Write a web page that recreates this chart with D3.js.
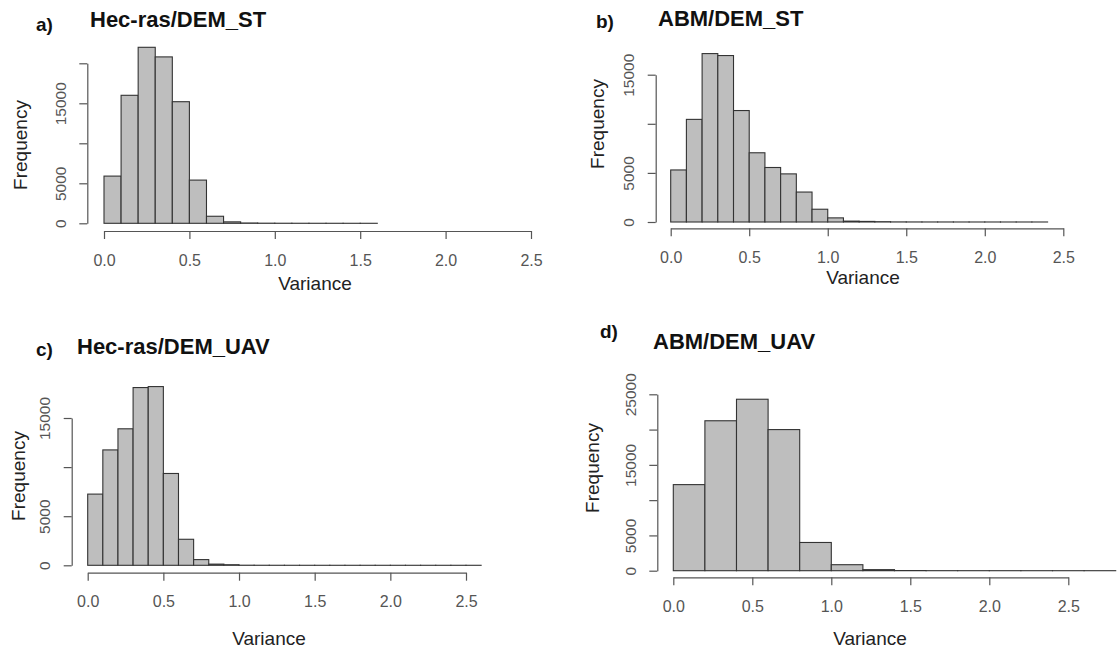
<!DOCTYPE html>
<html>
<head>
<meta charset="utf-8">
<script src="https://cdn.jsdelivr.net/npm/d3@7"></script>
<style>
  body { margin: 0; background: #fff; }
  svg { font-family: "Liberation Sans", Arial, sans-serif; }
</style>
</head>
<body>
<script>
// histogram counts, one value per bin (bins start at 0)
var countsA = [5900, 16000, 22000, 20800, 15200, 5400, 880, 180, 40, 15, 8, 5, 3, 2, 1, 1];
var countsB = [5300, 10450, 17150, 16950, 11350, 7050, 5550, 4900, 3050, 1300, 420, 90, 60, 30,
               10, 6, 4, 3, 2, 1, 1, 1, 1, 1];
var countsC = [7250, 11750, 13900, 18100, 18200, 9350, 2650, 580, 120, 60, 10, 5, 3, 2, 1, 1,
               1, 1, 1, 1, 1, 1, 1, 1, 1, 1];
var countsD = [12200, 21250, 24300, 20000, 4000, 850, 150, 20, 5, 3, 2, 1, 1, 1];
var binWidths = [0.1, 0.1, 0.1, 0.2];

var titles = ["Hec-ras/DEM_ST", "ABM/DEM_ST", "Hec-ras/DEM_UAV", "ABM/DEM_UAV"];
var letters = ["a)", "b)", "c)", "d)"];
var xTicks = [0, 0.5, 1.0, 1.5, 2.0, 2.5];
var yTicksSmall = [0, 5000, 10000, 15000];
var yTicksA = [0, 5000, 10000, 15000, 20000];
var yTicksD = [0, 5000, 10000, 15000, 20000, 25000];
var yLabelsABC = [0, 5000, 15000];
var yLabelsD = [0, 5000, 15000, 25000];

var width = 1119, height = 649;

var svg = d3.select("body").append("svg")
    .attr("width", width)
    .attr("height", height);

// panel layout (pixel frames)
var panels = [
  {counts: countsA, bw: binWidths[0], yTicks: yTicksA, yLabels: yLabelsABC,
   xr: [104, 531], yr: [223.3, 63.3], axisY: 231, axisX: 87.3,
   title: [90, 27], letter: [36, 31], freq: [20, 145], varc: [315, 283]},
  {counts: countsB, bw: binWidths[1], yTicks: yTicksSmall, yLabels: yLabelsABC,
   xr: [670.7, 1063.3], yr: [222, 74.7], axisY: 228.3, axisX: 655.7,
   title: [658, 26], letter: [596, 28], freq: [597, 124], varc: [863, 277]},
  {counts: countsC, bw: binWidths[2], yTicks: yTicksSmall, yLabels: yLabelsABC,
   xr: [87.7, 466], yr: [565.3, 418], axisY: 572.7, axisX: 71.7,
   title: [77, 354], letter: [36, 356], freq: [18.3, 476], varc: [269, 638]},
  {counts: countsD, bw: binWidths[3], yTicks: yTicksD, yLabels: yLabelsD,
   xr: [673.3, 1068.3], yr: [570.7, 394.3], axisY: 577.3, axisX: 657.3,
   title: [653, 349], letter: [600, 338], freq: [592, 468], varc: [870, 638]}
];

panels.forEach(function(p, k) {
  var x = d3.scaleLinear().domain([0, 2.5]).range(p.xr);
  var y = d3.scaleLinear().domain([0, d3.max(p.yTicks)]).range(p.yr);
  var g = svg.append("g");

  // bars
  g.selectAll("rect")
    .data(p.counts)
    .enter().append("rect")
      .attr("x", function(d, i) { return x(i * p.bw); })
      .attr("width", x(p.bw) - x(0))
      .attr("y", function(d) { return y(d); })
      .attr("height", function(d) { return y(0) - y(d); })
      .attr("fill", "#bebebe")
      .attr("stroke", "#333")
      .attr("stroke-width", 1.1);

  // x axis
  var gx = g.append("g")
      .attr("transform", "translate(0," + p.axisY + ")")
      .call(d3.axisBottom(x).tickValues(xTicks).tickFormat(d3.format(".1f"))
        .tickSizeOuter(0).tickSizeInner(8));
  gx.select(".domain").attr("stroke", "#555").attr("stroke-width", 1.2);
  gx.selectAll(".tick line").attr("stroke", "#555").attr("stroke-width", 1.2);
  gx.selectAll(".tick text")
      .attr("y", 29).attr("dy", "0.35em")
      .attr("font-size", 16).attr("fill", "#555")
      .attr("font-family", "Liberation Sans, Arial, sans-serif");

  // y axis
  var gy = g.append("g")
      .attr("transform", "translate(" + p.axisX + ",0)")
      .call(d3.axisLeft(y).tickValues(p.yTicks).tickFormat(d3.format("d"))
        .tickSizeOuter(0).tickSizeInner(8));
  gy.select(".domain").attr("stroke", "#555").attr("stroke-width", 1.2);
  gy.selectAll(".tick line").attr("stroke", "#555").attr("stroke-width", 1.2);
  gy.selectAll(".tick text")
      .attr("x", 0).attr("dy", "0.35em")
      .attr("transform", "translate(-27,0) rotate(-90)")
      .attr("text-anchor", "middle")
      .attr("font-size", 15.5).attr("fill", "#555")
      .attr("font-family", "Liberation Sans, Arial, sans-serif")
      .style("display", function(d) { return p.yLabels.indexOf(d) >= 0 ? null : "none"; });

  // titles
  g.append("text")
      .attr("x", p.title[0]).attr("y", p.title[1])
      .attr("font-size", 22).attr("font-weight", "bold").attr("fill", "#111")
      .text(titles[k]);
  g.append("text")
      .attr("x", p.letter[0]).attr("y", p.letter[1])
      .attr("font-size", 19).attr("font-weight", "bold").attr("fill", "#111")
      .text(letters[k]);

  g.append("text")
      .attr("transform", "translate(" + p.freq[0] + "," + p.freq[1] + ") rotate(-90)")
      .attr("text-anchor", "middle").attr("dy", "0.35em")
      .attr("font-size", 19).attr("fill", "#222")
      .text("Frequency");
  g.append("text")
      .attr("x", p.varc[0]).attr("y", p.varc[1])
      .attr("text-anchor", "middle").attr("dy", "0.35em")
      .attr("font-size", 19).attr("fill", "#222")
      .text("Variance");
});
</script>
</body>
</html>
